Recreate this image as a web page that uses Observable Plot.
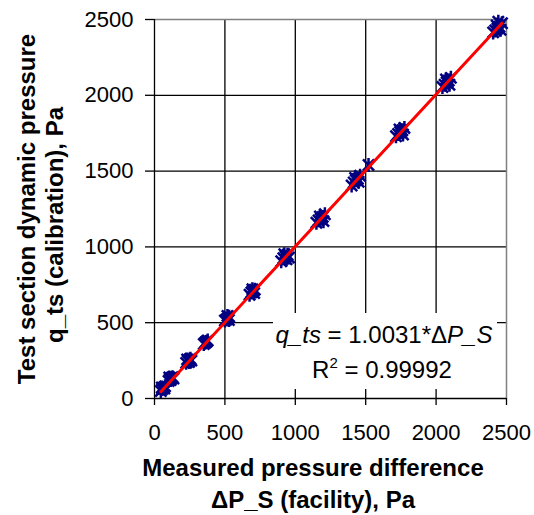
<!DOCTYPE html>
<html>
<head>
<meta charset="utf-8">
<script src="https://cdn.jsdelivr.net/npm/d3@7"></script>
<script src="https://cdn.jsdelivr.net/npm/@observablehq/plot@0.6"></script>
<style>
  html, body { margin: 0; padding: 0; background: #fff; }
  svg { display: block; }
</style>
</head>
<body>
<script>
// ---- data ----
const measuredDP = [
  45, 55, 62, 70, 52, 75,
  100, 110, 120, 128, 115, 135, 105,
  225, 238, 248, 255, 245, 262, 232,
  350, 360, 370, 378, 365,
  500, 512, 522, 530, 518, 528,
  675, 688, 700, 712, 695, 708,
  900, 915, 930, 945, 922, 938, 955,
  1150, 1165, 1180, 1195, 1210, 1175, 1200, 1188,
  1400, 1415, 1430, 1445, 1460, 1425, 1450,
  1520,
  1715, 1730, 1745, 1760, 1775, 1740, 1765, 1750,
  2045, 2060, 2075, 2090, 2105, 2070, 2095, 2080,
  2405, 2420, 2435, 2450, 2468, 2430, 2458, 2442
];
const calibratedQ = [
  50, 62, 70, 66, 72, 80,
  115, 128, 135, 140, 122, 132, 138,
  235, 248, 255, 262, 240, 250, 258,
  360, 368, 375, 382, 372,
  515, 522, 530, 540, 545, 518,
  685, 700, 708, 718, 720, 695,
  905, 925, 935, 948, 952, 918, 930,
  1160, 1175, 1185, 1198, 1215, 1200, 1170, 1190,
  1405, 1425, 1440, 1450, 1470, 1455, 1430,
  1540,
  1730, 1745, 1758, 1770, 1785, 1775, 1742, 1760,
  2055, 2070, 2085, 2098, 2115, 2105, 2070, 2090,
  2415, 2428, 2440, 2452, 2475, 2460, 2432, 2485
];
const fitSlope = 1.0031;
const rSquared = 0.99992;
const xTicks = [0, 500, 1000, 1500, 2000, 2500];
const yTicks = [0, 500, 1000, 1500, 2000, 2500];
const xTitle = ["Measured pressure difference", "\u0394P_S (facility), Pa"];
const yTitle = ["Test section dynamic pressure", "q_ts (calibration), Pa"];

const points = measuredDP.map((x, i) => ({x, y: calibratedQ[i]}));
const xMin = d3.min(measuredDP), xMax = d3.max(measuredDP);
const fit = [xMin, xMax].map(x => ({x, y: fitSlope * x}));

// Excel-like "star" marker: X with a vertical bar
const star = {
  draw(context, size) {
    const r = Math.sqrt(size / Math.PI);
    const d = r * 0.8;
    context.moveTo(-d, -d); context.lineTo(d, d);
    context.moveTo(-d, d); context.lineTo(d, -d);
    context.moveTo(0, -r); context.lineTo(0, r);
  }
};

const FONT = "'Liberation Sans', Arial, Helvetica, sans-serif";

const svg = Plot.plot({
  width: 534,
  height: 515,
  marginLeft: 154,
  marginRight: 28,
  marginTop: 19,
  marginBottom: 117,
  style: {fontFamily: FONT, fontSize: "22px", color: "#000", background: "#fff"},
  x: {domain: [0, 2500]},
  y: {domain: [0, 2500]},
  marks: [
    Plot.gridX(xTicks.slice(1, -1), {stroke: "#000", strokeOpacity: 1, strokeWidth: 1.3}),
    Plot.gridY(yTicks.slice(1, -1), {stroke: "#000", strokeOpacity: 1, strokeWidth: 1.3}),
    Plot.ruleX([2500], {stroke: "#808080", strokeWidth: 1.5}),
    Plot.ruleY([2500], {stroke: "#808080", strokeWidth: 1.5}),
    Plot.ruleX([0], {stroke: "#000", strokeWidth: 1.3}),
    Plot.ruleY([0], {stroke: "#000", strokeWidth: 1.3}),
    Plot.axisX({ticks: xTicks, tickSize: 7, tickPadding: 19, tickFormat: d => String(d), label: null, strokeWidth: 1.3}),
    Plot.axisY({ticks: yTicks, tickSize: 9, tickPadding: 12, tickFormat: d => String(d), label: null, strokeWidth: 1.3}),
    Plot.dot(points, {x: "x", y: "y", symbol: star, r: 7, stroke: "#000080", strokeWidth: 2.5, fill: "none"}),
    Plot.line(fit, {x: "x", y: "y", stroke: "#ff0000", strokeWidth: 3})
  ]
});
document.body.appendChild(svg);

const s = d3.select(svg);

// annotation box
s.append("rect").attr("x", 273).attr("y", 313).attr("width", 224).attr("height", 76).attr("fill", "#fff");
const t1 = s.append("text").attr("x", 384).attr("y", 343).attr("text-anchor", "middle")
  .attr("font-family", FONT).attr("font-size", 24).attr("fill", "#000");
t1.append("tspan").attr("font-style", "italic").text("q_ts");
t1.append("tspan").text(" = " + fitSlope.toFixed(4) + "*\u0394");
t1.append("tspan").attr("font-style", "italic").text("P_S");
const t2 = s.append("text").attr("x", 382).attr("y", 378).attr("text-anchor", "middle")
  .attr("font-family", FONT).attr("font-size", 24).attr("fill", "#000");
t2.append("tspan").text("R");
t2.append("tspan").attr("font-size", 15).attr("dy", -10).text("2");
t2.append("tspan").attr("dy", 10).text(" = " + rSquared);

// axis titles
s.append("text").attr("x", 313).attr("y", 476).attr("text-anchor", "middle")
  .attr("font-family", FONT).attr("font-size", 24).attr("font-weight", "bold").text(xTitle[0]);
s.append("text").attr("x", 313).attr("y", 508).attr("text-anchor", "middle")
  .attr("font-family", FONT).attr("font-size", 24).attr("font-weight", "bold").text(xTitle[1]);
s.append("text").attr("transform", "translate(35,209) rotate(-90)").attr("text-anchor", "middle")
  .attr("font-family", FONT).attr("font-size", 24).attr("font-weight", "bold").text(yTitle[0]);
s.append("text").attr("transform", "translate(63,225) rotate(-90)").attr("text-anchor", "middle")
  .attr("font-family", FONT).attr("font-size", 24).attr("font-weight", "bold").text(yTitle[1]);
</script>
</body>
</html>
